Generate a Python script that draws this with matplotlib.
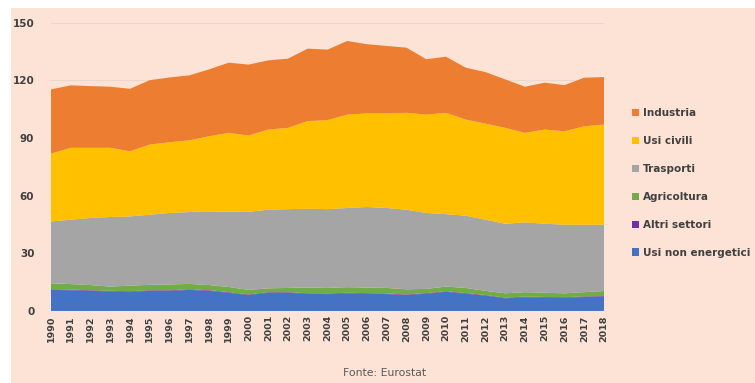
import matplotlib
matplotlib.use("Agg")
import matplotlib.pyplot as plt
from matplotlib.patches import Rectangle, Patch

years = list(range(1990, 2019))

usi_non_energetici = [11.0, 10.8, 10.5, 10.2, 10.0, 10.5, 10.5, 11.0, 10.5, 9.5,
                      8.3, 9.5, 9.5, 8.9, 8.8, 9.2, 9.0, 8.8, 8.3, 9.0,
                      10.0, 9.0, 8.0, 6.6, 7.2, 7.0, 6.9, 7.3, 7.5]
altri_settori = [0.3] * 29
agricoltura = [3.1, 2.9, 2.7, 2.2, 2.9, 2.8, 3.0, 2.8, 2.7, 2.7,
               2.4, 2.0, 2.2, 3.0, 2.9, 2.9, 2.9, 2.9, 2.7, 2.2,
               2.4, 2.7, 2.2, 2.3, 2.3, 2.2, 2.0, 2.2, 2.6]
trasporti = [32.2, 33.5, 34.9, 36.2, 36.0, 36.5, 37.2, 37.4, 38.3, 39.1,
             40.6, 40.9, 41.0, 41.0, 41.0, 41.2, 41.9, 41.6, 41.4, 39.5,
             37.7, 37.6, 37.0, 36.2, 36.3, 35.9, 35.7, 35.1, 34.5]
usi_civili = [35.3, 37.4, 36.5, 36.0, 33.9, 36.5, 36.8, 37.3, 39.1, 41.1,
              39.7, 41.7, 42.3, 45.6, 46.3, 48.6, 48.7, 49.2, 50.4, 51.2,
              52.7, 50.0, 50.0, 49.9, 46.6, 49.0, 48.6, 51.2, 52.1]
industria = [33.4, 32.5, 32.1, 31.8, 32.5, 33.5, 33.7, 33.8, 34.8, 36.5,
             36.9, 36.0, 36.0, 37.7, 36.7, 38.3, 36.0, 35.1, 33.9, 28.8,
             29.2, 27.0, 26.8, 25.2, 24.0, 24.4, 24.0, 25.3, 24.7]

series_labels = ["Usi non energetici", "Altri settori", "Agricoltura",
                 "Trasporti", "Usi civili", "Industria"]
series_colors = ["#4472C4", "#7030A0", "#70AD47", "#A5A5A5", "#FFC000", "#ED7D31"]
y_ticks = [0, 30, 60, 90, 120, 150]

peach = "#FCE3D6"
text_dark = "#404040"

fig = plt.figure(figsize=(7.55, 3.83), dpi=100, facecolor="white")
fig.patches.append(Rectangle((11 / 755, 0), 1 - 11 / 755, 1 - 8 / 383,
                             transform=fig.transFigure, facecolor=peach,
                             edgecolor="none", zorder=-10))

ax = fig.add_axes([51 / 755, 1 - 311 / 383, (604 - 51) / 755, (311 - 22.7) / 383])
ax.set_facecolor(peach)

ax.stackplot(years, usi_non_energetici, altri_settori, agricoltura, trasporti,
             usi_civili, industria, colors=series_colors, labels=series_labels,
             linewidth=0, zorder=3)

ax.set_xlim(years[0], years[-1])
ax.set_ylim(0, 150)
ax.set_yticks(y_ticks)
ax.set_yticklabels([str(v) for v in y_ticks], fontsize=7.5, fontweight="bold",
                   color=text_dark)
ax.set_xticks(years)
ax.set_xticklabels([str(y) for y in years], rotation=90, fontsize=6.8,
                   fontweight="bold", color=text_dark)
ax.tick_params(axis="both", length=0, pad=3)
ax.tick_params(axis="y", pad=12)
ax.grid(axis="y", color="#EBD8CC", linewidth=0.8, zorder=0)
for s in ax.spines.values():
    s.set_visible(False)
ax.axhline(0, color="#D9D9D9", linewidth=0.8, zorder=4)

handles = [Patch(facecolor=c, edgecolor="none") for c in series_colors]
order = list(range(len(series_labels)))[::-1]
leg = fig.legend([handles[i] for i in order], [series_labels[i] for i in order],
                 loc="upper left", bbox_to_anchor=(628 / 755, 1 - 104 / 383),
                 frameon=False, fontsize=7.5, handlelength=0.7, handleheight=0.7,
                 handletextpad=0.3, labelspacing=1.72, borderaxespad=0)
for t in leg.get_texts():
    t.set_fontweight("bold")
    t.set_color(text_dark)

fig.text(385 / 755, 1 - 373 / 383, "Fonte: Eurostat", ha="center", va="center",
         fontsize=7.8, color="#595959")

fig.savefig("out.png", dpi=100, facecolor=fig.get_facecolor())
